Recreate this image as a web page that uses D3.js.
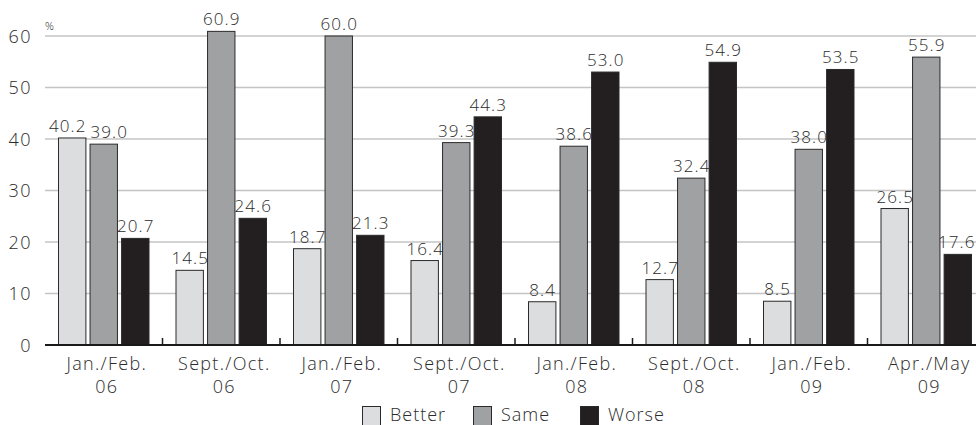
<!DOCTYPE html>
<html>
<head>
<meta charset="utf-8">
<script src="https://cdn.jsdelivr.net/npm/d3@7"></script>
<style>
  html, body { margin: 0; padding: 0; background: #fff; }
  svg { display: block; }
  text { font-family: "Open Sans", Lato, "DejaVu Sans", sans-serif; font-weight: 300; fill: #2b2b2b; }
</style>
</head>
<body>
<svg id="chart" width="976" height="425"></svg>
<script>
// Survey periods (two-line labels)
const periods = [
  ["Jan./Feb.", "06"], ["Sept./Oct.", "06"], ["Jan./Feb.", "07"], ["Sept./Oct.", "07"],
  ["Jan./Feb.", "08"], ["Sept./Oct.", "08"], ["Jan./Feb.", "09"], ["Apr./May", "09"]
];
const seriesNames = ["Better", "Same", "Worse"];
const better = [40.2, 14.5, 18.7, 16.4, 8.4, 12.7, 8.5, 26.5];
const same   = [39.0, 60.9, 60.0, 39.3, 38.6, 32.4, 38.0, 55.9];
const worse  = [20.7, 24.6, 21.3, 44.3, 53.0, 54.9, 53.5, 17.6];
const yTicks = [0, 10, 20, 30, 40, 50, 60];

const values = [better, same, worse];
const colors = ["#dcdddf", "#a0a1a3", "#231f20"];

const W = 976;
const svg = d3.select("#chart");

const x0 = d3.scaleBand().domain(d3.range(periods.length)).range([45, 985]).paddingInner(0).paddingOuter(0);
const x1 = d3.scaleBand().domain(d3.range(seriesNames.length)).range([13, x0.bandwidth() - 13]).paddingInner(0.1);
const y = d3.scaleLinear().domain([0, 60]).range([345, 36]);

// horizontal gridlines
svg.append("g").selectAll("line")
  .data(yTicks.filter(t => t > 0))
  .join("line")
  .attr("x1", 45).attr("x2", W)
  .attr("y1", d => y(d)).attr("y2", d => y(d))
  .attr("stroke", "#c4c4c4").attr("stroke-width", 1.5);

// y tick labels
svg.append("g").selectAll("text")
  .data(yTicks)
  .join("text")
  .attr("x", 32).attr("y", d => y(d) + 6.5)
  .attr("text-anchor", "end")
  .attr("font-size", 18)
  .attr("letter-spacing", 1.5)
  .text(d => d);

svg.append("text").attr("x", 45).attr("y", 30).attr("font-size", 11).text("%");

// bars
const groups = svg.append("g").selectAll("g")
  .data(periods.map((p, i) => i))
  .join("g")
  .attr("transform", i => `translate(${x0(i)},0)`);

groups.selectAll("rect")
  .data(i => values.map((v, s) => ({ s, v: v[i] })))
  .join("rect")
  .attr("x", d => x1(d.s) + 0.5)
  .attr("width", x1.bandwidth() - 1)
  .attr("y", d => y(d.v))
  .attr("height", d => y(0) - y(d.v))
  .attr("fill", d => colors[d.s])
  .attr("stroke", "#2a2a2a").attr("stroke-width", 1);

// value labels, centred over each bar
groups.each(function (gi) {
  const g = d3.select(this);
  const labels = g.selectAll("text.val")
    .data(values.map((v, s) => ({ s, v: v[gi] })))
    .join("text")
    .attr("class", "val")
    .attr("y", d => y(d.v) - 6)
    .attr("text-anchor", "middle")
    .attr("font-size", 17)
    .attr("letter-spacing", 1.1)
    .text(d => d.v.toFixed(1));

  // measure, then push neighbouring labels apart where they would collide
  const items = labels.nodes().map((node, k) => {
    const d = d3.select(node).datum();
    const w = node.getComputedTextLength();
    return { node, d, w, cx: x1(d.s) + x1.bandwidth() / 2 };
  });
  const gap = 4;
  for (let k = 0; k < items.length - 1; k++) {
    const a = items[k], b = items[k + 1];
    const vOverlap = Math.abs(y(a.d.v) - y(b.d.v)) < 16;
    const hOverlap = (a.cx + a.w / 2 + gap) - (b.cx - b.w / 2);
    if (vOverlap && hOverlap > 0) {
      a.cx -= hOverlap / 2;
      b.cx += hOverlap / 2;
    }
  }
  // keep labels inside the drawing
  const offset = x0(gi);
  items.forEach(it => {
    const right = offset + it.cx + it.w / 2;
    if (right > W - 1) it.cx -= right - (W - 1);
    d3.select(it.node).attr("x", it.cx + 0.5);
  });
});

// baseline and group separator ticks
svg.append("line")
  .attr("x1", 45).attr("x2", W)
  .attr("y1", y(0)).attr("y2", y(0))
  .attr("stroke", "#1a1a1a").attr("stroke-width", 2);

svg.append("g").selectAll("line")
  .data(d3.range(1, periods.length))
  .join("line")
  .attr("x1", i => x0(i)).attr("x2", i => x0(i))
  .attr("y1", y(0)).attr("y2", y(0) - 7)
  .attr("stroke", "#1a1a1a").attr("stroke-width", 1.5);

// category labels
const cat = svg.append("g").selectAll("text")
  .data(periods)
  .join("text")
  .attr("text-anchor", "middle")
  .attr("font-size", 18)
  .attr("letter-spacing", 1.3)
  .attr("transform", (d, i) => `translate(${x0(i) + x0.bandwidth() / 2 + 3},0)`);
cat.append("tspan").attr("x", 0).attr("y", 370).text(d => d[0]);
cat.append("tspan").attr("x", 0).attr("y", 393).text(d => d[1]);

// legend
const legendX = [362, 473, 580];
const leg = svg.append("g").selectAll("g")
  .data(seriesNames)
  .join("g")
  .attr("transform", (d, i) => `translate(${legendX[i]},406)`);
leg.append("rect")
  .attr("x", 0.5).attr("y", 0.5).attr("width", 18).attr("height", 19)
  .attr("fill", (d, i) => colors[i])
  .attr("stroke", "#2a2a2a").attr("stroke-width", 1);
leg.append("text")
  .attr("x", 28).attr("y", 15)
  .attr("font-size", 18)
  .attr("letter-spacing", 1)
  .text(d => d);
</script>
</body>
</html>
